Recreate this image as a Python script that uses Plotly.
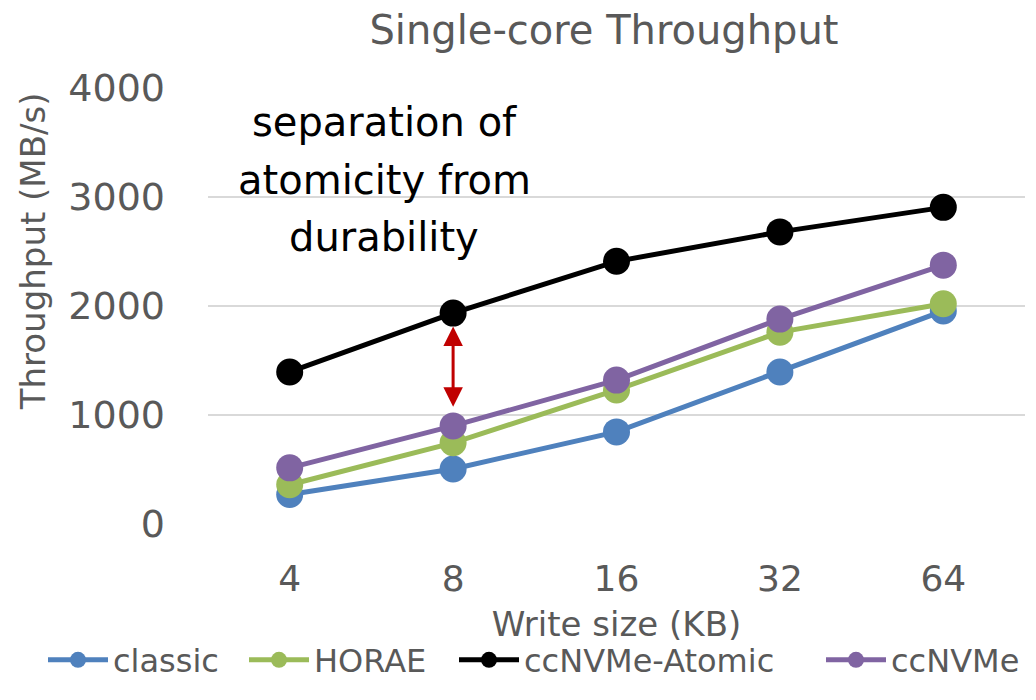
import plotly.graph_objects as go

categories = ["4", "8", "16", "32", "64"]
classic = [270, 505, 845, 1395, 1955]
horae = [360, 745, 1230, 1760, 2020]
atomic = [1395, 1935, 2410, 2680, 2905]
ccnvme = [515, 900, 1320, 1880, 2375]

names = ["classic", "HORAE", "ccNVMe-Atomic", "ccNVMe"]
values = [classic, horae, atomic, ccnvme]
colors = ["#4F81BD", "#9BBB59", "#000000", "#8064A2"]
legend_widths = [126, 135, 292, 140]

note_lines = ["separation of", "atomicity from", "durability"]
note_y = [3690, 3160, 2630]

FONT = "DejaVu Sans, sans-serif"
GRAY = "#595959"

fig = go.Figure()
for name, vals, color, lw in zip(names, values, colors, legend_widths):
    fig.add_trace(go.Scatter(
        x=categories, y=vals, name=name, mode="lines+markers",
        line=dict(color=color, width=5),
        marker=dict(color=color, size=27),
        legendwidth=lw,
    ))

fig.update_layout(
    width=1036, height=700,
    paper_bgcolor="white", plot_bgcolor="white",
    margin=dict(l=208, r=11, t=88, b=176),
    font=dict(family=FONT, color=GRAY),
    title=dict(text="Single-core Throughput", x=0.583, xanchor="center",
               y=0.957, yanchor="middle", font=dict(size=40, color=GRAY)),
    xaxis=dict(type="category", range=[-0.5, 4.5], showgrid=False, showline=False,
               zeroline=False, tickfont=dict(size=36, color=GRAY), ticks="",
               ticklabelstandoff=30, automargin=False,
               title=dict(text="Write size (KB)", font=dict(size=34, color=GRAY), standoff=14)),
    yaxis=dict(range=[0, 4000], tickvals=[0, 1000, 2000, 3000, 4000],
               showgrid=True, gridcolor="#D9D9D9", gridwidth=2, zeroline=False,
               showline=False, tickfont=dict(size=38, color=GRAY), ticks="",
               ticklabelstandoff=42, automargin=False),
    legend=dict(orientation="h", x=-0.2015, xanchor="left", y=-0.375, yanchor="bottom",
                font=dict(size=32, color=GRAY), itemwidth=60, tracegroupgap=0,
                bgcolor="rgba(0,0,0,0)"),
    showlegend=True,
)

fig.add_annotation(
    x=-0.214, y=0.626, xref="paper", yref="paper",
    text="Throughput (MB/s)", textangle=-90, showarrow=False,
    font=dict(size=34, color=GRAY, family=FONT),
    xanchor="center", yanchor="middle",
)
for line, yv in zip(note_lines, note_y):
    fig.add_annotation(
        x=categories.index("8") - 0.42, y=yv, xref="x", yref="y",
        text=line, showarrow=False, font=dict(size=40, color="black", family=FONT),
        xanchor="center", yanchor="middle",
    )
fig.add_annotation(
    x=categories.index("8"), y=1075, ax=categories.index("8"), ay=1825,
    xref="x", yref="y", axref="x", ayref="y",
    text="", showarrow=True, arrowhead=2, startarrowhead=2, arrowside="end+start",
    arrowwidth=3, arrowcolor="#C00000", arrowsize=1.3, startarrowsize=1.3,
)

fig.write_html("out.html")
